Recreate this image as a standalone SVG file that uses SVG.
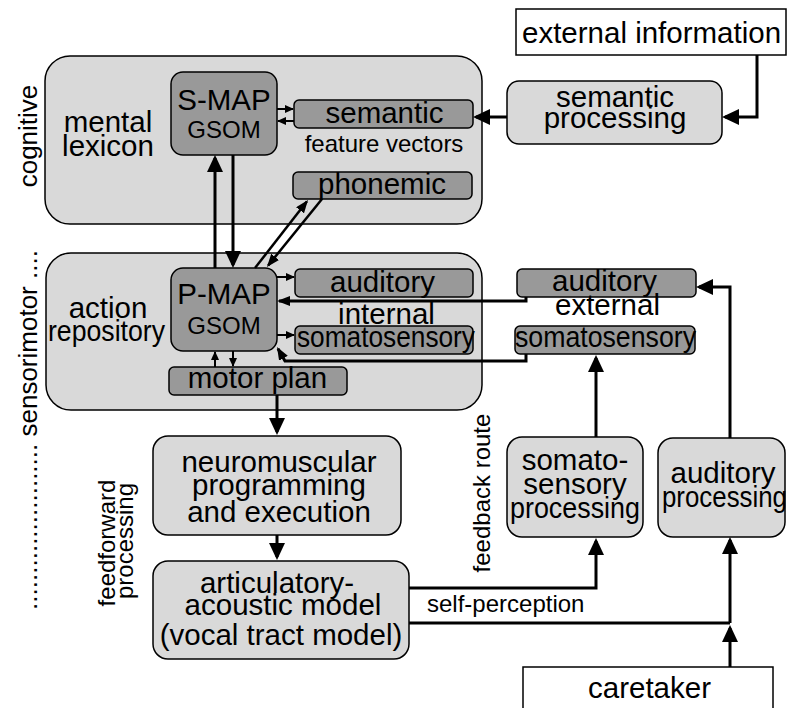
<svg xmlns="http://www.w3.org/2000/svg" width="787" height="708" viewBox="0 0 787 708">
<defs>
<style>
text { font-family: "Liberation Sans", Arial, sans-serif; fill: #000; }
.f { font-size: 29.5px; }
.m { font-size: 24px; }
.c { text-anchor: middle; }
.region { fill: #d9d9d9; stroke: #000; stroke-width: 1.5; }
.proc { fill: #d9d9d9; stroke: #000; stroke-width: 1.5; }
.dark { fill: #999999; stroke: #000; stroke-width: 1.5; }
.white { fill: #ffffff; stroke: #000; stroke-width: 1.5; }
.ln { fill: none; stroke: #000; stroke-width: 3; }
.ln2 { fill: none; stroke: #000; stroke-width: 2.5; }
.thin { fill: none; stroke: #000; stroke-width: 2; }
</style>
<marker id="ab" markerUnits="userSpaceOnUse" markerWidth="17" markerHeight="16" viewBox="0 0 17 16" refX="14" refY="8" orient="auto"><path d="M0,0 L17,8 L0,16 z" fill="#000"/></marker>
<marker id="am" markerUnits="userSpaceOnUse" markerWidth="13" markerHeight="10" viewBox="0 0 13 10" refX="11" refY="5" orient="auto"><path d="M0,0 L13,5 L0,10 z" fill="#000"/></marker>
<marker id="as" markerUnits="userSpaceOnUse" markerWidth="9" markerHeight="8" viewBox="0 0 9 8" refX="8" refY="4" orient="auto"><path d="M0,0 L9,4 L0,8 z" fill="#000"/></marker>
</defs>

<g id="labels">
<text class="c" font-size="26" transform="translate(37,136) rotate(-90)">cognitive</text>
<text class="c" font-size="26" transform="translate(37,430) rotate(-90)">....................... sensorimotor ....</text>
<text class="c m" transform="translate(115,543) rotate(-90)">feedforward</text>
<text class="c m" transform="translate(133,541) rotate(-90)">processing</text>
<text class="c m" transform="translate(490,493) rotate(-90)">feedback route</text>
<text class="m" x="427" y="612">self-perception</text>
</g>

<g id="cognitive">
<rect class="region" x="45" y="56" width="437" height="168" rx="25"/>
<text class="f c" x="108" y="132">mental</text>
<text class="f c" x="108" y="156">lexicon</text>
</g>

<g id="sensorimotor">
<rect class="region" x="46" y="253" width="436" height="157" rx="25"/>
<text class="f c" x="108" y="318">action</text>
<text class="f c" x="106.5" y="341" textLength="117" lengthAdjust="spacingAndGlyphs">repository</text>
</g>

<g id="smap">
<rect class="dark" x="171" y="72" width="106" height="83" rx="12"/>
<text class="f c" x="224" y="110">S-MAP</text>
<text class="m c" x="224" y="138">GSOM</text>
</g>

<g id="semantic">
<rect class="dark" x="294" y="100" width="179" height="28" rx="5"/>
<text class="f c" x="384.5" y="123">semantic</text>
</g>
<g id="feature-vectors">
<text class="m c" x="384" y="152">feature vectors</text>
</g>

<g id="phonemic">
<rect class="dark" x="293" y="172" width="179" height="27" rx="5"/>
<text class="f c" x="382" y="194">phonemic</text>
</g>

<g id="pmap">
<rect class="dark" x="171" y="268" width="106" height="83" rx="12"/>
<text class="f c" x="224" y="304">P-MAP</text>
<text class="m c" x="224" y="334">GSOM</text>
</g>

<g id="auditory-internal">
<rect class="dark" x="295" y="269" width="178" height="28" rx="5"/>
<text class="f c" x="382.5" y="292">auditory</text>
</g>
<g id="internal-label">
<text class="f c" x="386.5" y="324">internal</text>
</g>
<g id="somato-internal">
<rect class="dark" x="295" y="326" width="178" height="28" rx="5"/>
<text class="f c" x="386" y="347" textLength="178" lengthAdjust="spacingAndGlyphs">somatosensory</text>
</g>

<g id="motor-plan">
<rect class="dark" x="169" y="367" width="178" height="28" rx="5"/>
<text class="f c" x="257.5" y="388">motor plan</text>
</g>

<g id="auditory-external">
<rect class="dark" x="517" y="269" width="179" height="28" rx="5"/>
<text class="f c" x="604.5" y="291">auditory</text>
</g>
<g id="external-label">
<text class="f c" x="607.5" y="315">external</text>
</g>
<g id="somato-external">
<rect class="dark" x="515" y="326" width="180" height="28" rx="5"/>
<text class="f c" x="605.5" y="347" textLength="181" lengthAdjust="spacingAndGlyphs">somatosensory</text>
</g>

<g id="external-information">
<rect class="white" x="516" y="9" width="270" height="46"/>
<text class="f" x="522" y="43" font-size="29">external information</text>
</g>

<g id="semantic-processing">
<rect class="proc" x="507" y="81" width="215" height="63" rx="12"/>
<text class="f c" x="615" y="107">semantic</text>
<text class="f c" x="615" y="128">processing</text>
</g>

<g id="neuromuscular">
<rect class="proc" x="153" y="436" width="248" height="99" rx="15"/>
<text class="f c" x="279" y="472">neuromuscular</text>
<text class="f c" x="279" y="495">programming</text>
<text class="f c" x="279" y="522">and execution</text>
</g>

<g id="articulatory">
<rect class="proc" x="153" y="561" width="256" height="98" rx="15"/>
<text class="f c" x="277" y="593">articulatory-</text>
<text class="f c" x="283" y="615">acoustic model</text>
<text class="f c" x="281" y="645">(vocal tract model)</text>
</g>

<g id="somato-processing">
<rect class="proc" x="507" y="437" width="136" height="100" rx="15"/>
<text class="f c" x="575" y="470">somato-</text>
<text class="f c" x="575" y="494">sensory</text>
<text class="f c" x="575" y="518" textLength="130" lengthAdjust="spacingAndGlyphs">processing</text>
</g>

<g id="auditory-processing">
<rect class="proc" x="658" y="438" width="127" height="99" rx="15"/>
<text class="f c" x="723" y="483">auditory</text>
<text class="f" x="662" y="507" textLength="125" lengthAdjust="spacingAndGlyphs">processing</text>
</g>

<g id="caretaker">
<rect class="white" x="523" y="667" width="250" height="60"/>
<text class="f c" x="649.5" y="698">caretaker</text>
</g>

<g id="connectors">
<path class="ln" d="M757,55 V117 H725" marker-end="url(#ab)"/>
<path class="ln" d="M507,117 H476" marker-end="url(#ab)"/>
<path class="thin" d="M277,109 H293" marker-end="url(#as)"/>
<path class="thin" d="M294,121 H278" marker-end="url(#as)"/>
<path class="ln" d="M215,268 V158" marker-end="url(#ab)"/>
<path class="ln" d="M233,155 V265" marker-end="url(#ab)"/>
<path class="ln2" d="M255,268 L306.8,201.6" marker-end="url(#am)"/>
<path class="ln2" d="M322,199 L268.2,265.4" marker-end="url(#am)"/>
<path class="thin" d="M277,277 H294" marker-end="url(#as)"/>
<path class="thin" d="M277,335 H294" marker-end="url(#as)"/>
<path class="ln" d="M526,297 V301 H279" marker-end="url(#am)"/>
<path class="ln" d="M526,354 V361 H285 L278,348.7" marker-end="url(#am)"/>
<path class="thin" d="M215,367 V352" marker-end="url(#as)"/>
<path class="thin" d="M233,351 V366" marker-end="url(#as)"/>
<path class="ln" d="M277,395 V432" marker-end="url(#ab)"/>
<path class="ln" d="M277,535 V557" marker-end="url(#ab)"/>
<path class="ln" d="M409,588 H596 V541" marker-end="url(#ab)"/>
<path class="ln" d="M409,623 H730"/>
<path class="ln" d="M730,623 V540" marker-end="url(#ab)"/>
<path class="ln" d="M730,667 V628" marker-end="url(#ab)"/>
<path class="ln" d="M596,437 V358" marker-end="url(#ab)"/>
<path class="ln" d="M730,438 V287 H699" marker-end="url(#ab)"/>
</g>
</svg>
